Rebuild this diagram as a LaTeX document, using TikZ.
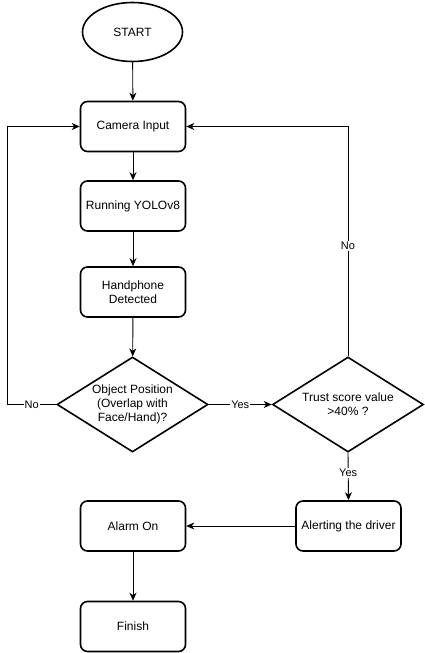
\documentclass[tikz,border=0pt]{standalone}
\usepackage{fontspec}
\setmainfont{Liberation Sans}
\usetikzlibrary{shapes.geometric,arrows.meta}
\begin{document}
\begin{tikzpicture}[x=1pt,y=-1pt,
  every node/.style={font=\fontsize{12}{14}\selectfont},
  proc/.style={draw,line width=1.6pt,rounded corners=7pt,minimum width=105pt,minimum height=50pt,align=center,inner sep=1pt},
  term/.style={draw,line width=1.6pt,ellipse,minimum width=100pt,minimum height=59pt},
  dec/.style={draw,line width=1.6pt,diamond,minimum width=151pt,minimum height=95pt,aspect=1.6,align=center,inner sep=0pt},
  conn/.style={line width=0.9pt,-{Stealth[length=8pt,width=7pt,inset=2.5pt]}},
  lab/.style={fill=white,inner sep=1pt,font=\fontsize{11}{13}\selectfont}]
\useasboundingbox (0,0) rectangle (425,653);
\node[term] (start) at (132.5,32) {START};
\node[proc] (cam) at (133,126.5) {Camera Input};
\node[proc] (yolo) at (133,206) {Running YOLOv8};
\node[proc] (hand) at (133,292) {Handphone\\Detected};
\node[dec] (obj) at (132.5,404.5) {Object Position\\(Overlap with\\Face/Hand)?};
\node[dec] (trust) at (348,404.5) {Trust score value\\>40\% ?};
\node[proc] (alert) at (348.5,526) {Alerting the driver};
\node[proc] (alarm) at (133,526) {Alarm On};
\node[proc] (finish) at (133,626.5) {Finish};
\coordinate (lc) at (7,404.5);
\coordinate (lt) at (7,126.5);
\coordinate (rt) at (348,126.5);
\draw[conn] (start) -- (cam);
\draw[conn] (cam) -- (yolo);
\draw[conn] (yolo) -- (hand);
\draw[conn] (hand) -- (obj);
\draw[conn] (obj.west) -- node[lab,pos=0.5]{No} (lc) -- (lt) -- (cam.west);
\draw[conn] (obj.east) -- node[lab]{Yes} (trust.west);
\draw[conn] (trust.north) -- node[lab,pos=0.48]{No} (rt) -- (cam.east);
\draw[conn] (trust.south) -- node[lab,pos=0.43]{Yes} (alert.north);
\draw[conn] (alert.west) -- (alarm.east);
\draw[conn] (alarm) -- (finish);
\end{tikzpicture}
\end{document}
